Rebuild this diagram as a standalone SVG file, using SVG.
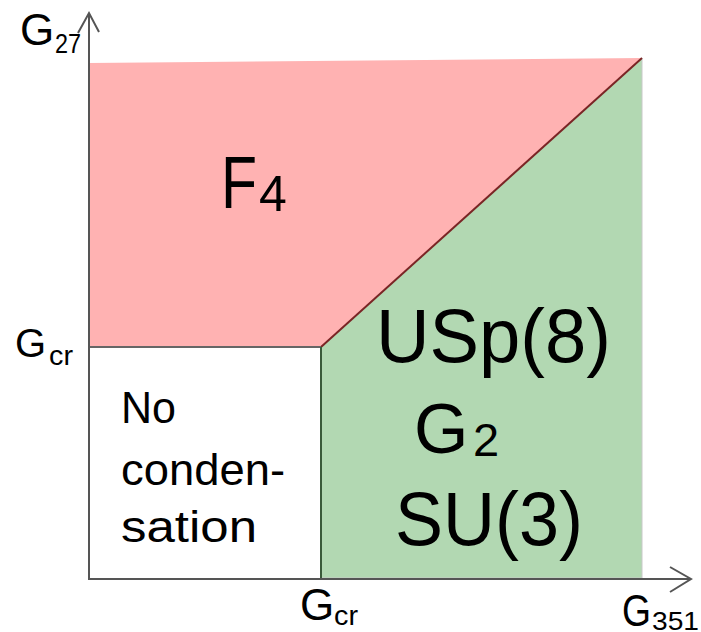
<svg xmlns="http://www.w3.org/2000/svg" width="701" height="632" viewBox="0 0 701 632">
<style>
text{font-family:"Liberation Sans","Noto Sans",sans-serif;fill:#000}
.axis{stroke:#555;stroke-width:2;fill:none}
</style>
<rect width="701" height="632" fill="#fff"/>
<g id="region-f4">
<polygon points="89,63 642,58 321,347 89,347" fill="#ffb2b2"/>
<text x="221" y="208" font-size="74" textLength="36" lengthAdjust="spacingAndGlyphs">F</text>
<text x="259" y="211" font-size="50">4</text>
</g>
<g id="region-usp">
<polygon points="321,347 642,58 642,578 321,578" fill="#b2d8b2" stroke="#c8c8c8" stroke-width="1"/>
<text x="376" y="362" font-size="76" textLength="235" lengthAdjust="spacingAndGlyphs">USp(8)</text>
<text x="414" y="453" font-size="70">G</text>
<text x="473" y="456" font-size="47">2</text>
<text x="395" y="545" font-size="76" textLength="188" lengthAdjust="spacingAndGlyphs">SU(3)</text>
</g>
<g id="region-none">
<text x="121" y="423" font-size="44" textLength="55" lengthAdjust="spacingAndGlyphs">No</text>
<text x="121" y="485" font-size="44" textLength="164" lengthAdjust="spacingAndGlyphs">conden-</text>
<text x="121" y="542" font-size="44" textLength="136" lengthAdjust="spacingAndGlyphs">sation</text>
</g>
<g id="connectors">
<line x1="321" y1="347" x2="642" y2="58" stroke="#7a2525" stroke-width="2"/>
<line x1="89" y1="347" x2="321" y2="347" stroke="#666" stroke-width="2"/>
<line x1="321" y1="347" x2="321" y2="578" stroke="#3a5a3a" stroke-width="2"/>
<line class="axis" x1="89" y1="580" x2="89" y2="13"/>
<polyline class="axis" points="78,33 89,13 99,32"/>
<line class="axis" x1="88" y1="579" x2="691" y2="579"/>
<polyline class="axis" points="670,567 691,579 670,592"/>
</g>
<g id="labels">
<text x="20" y="45" font-size="44">G</text>
<text x="55" y="53" font-size="28" textLength="26" lengthAdjust="spacingAndGlyphs">27</text>
<text x="15" y="357" font-size="40">G</text>
<text x="49" y="365" font-size="28" textLength="24" lengthAdjust="spacingAndGlyphs">cr</text>
<text x="300" y="620" font-size="44">G</text>
<text x="334" y="625" font-size="28" textLength="24" lengthAdjust="spacingAndGlyphs">cr</text>
<text x="622" y="626" font-size="44" textLength="29" lengthAdjust="spacingAndGlyphs">G</text>
<text x="652" y="630" font-size="26" textLength="47" lengthAdjust="spacingAndGlyphs">351</text>
</g>
</svg>
